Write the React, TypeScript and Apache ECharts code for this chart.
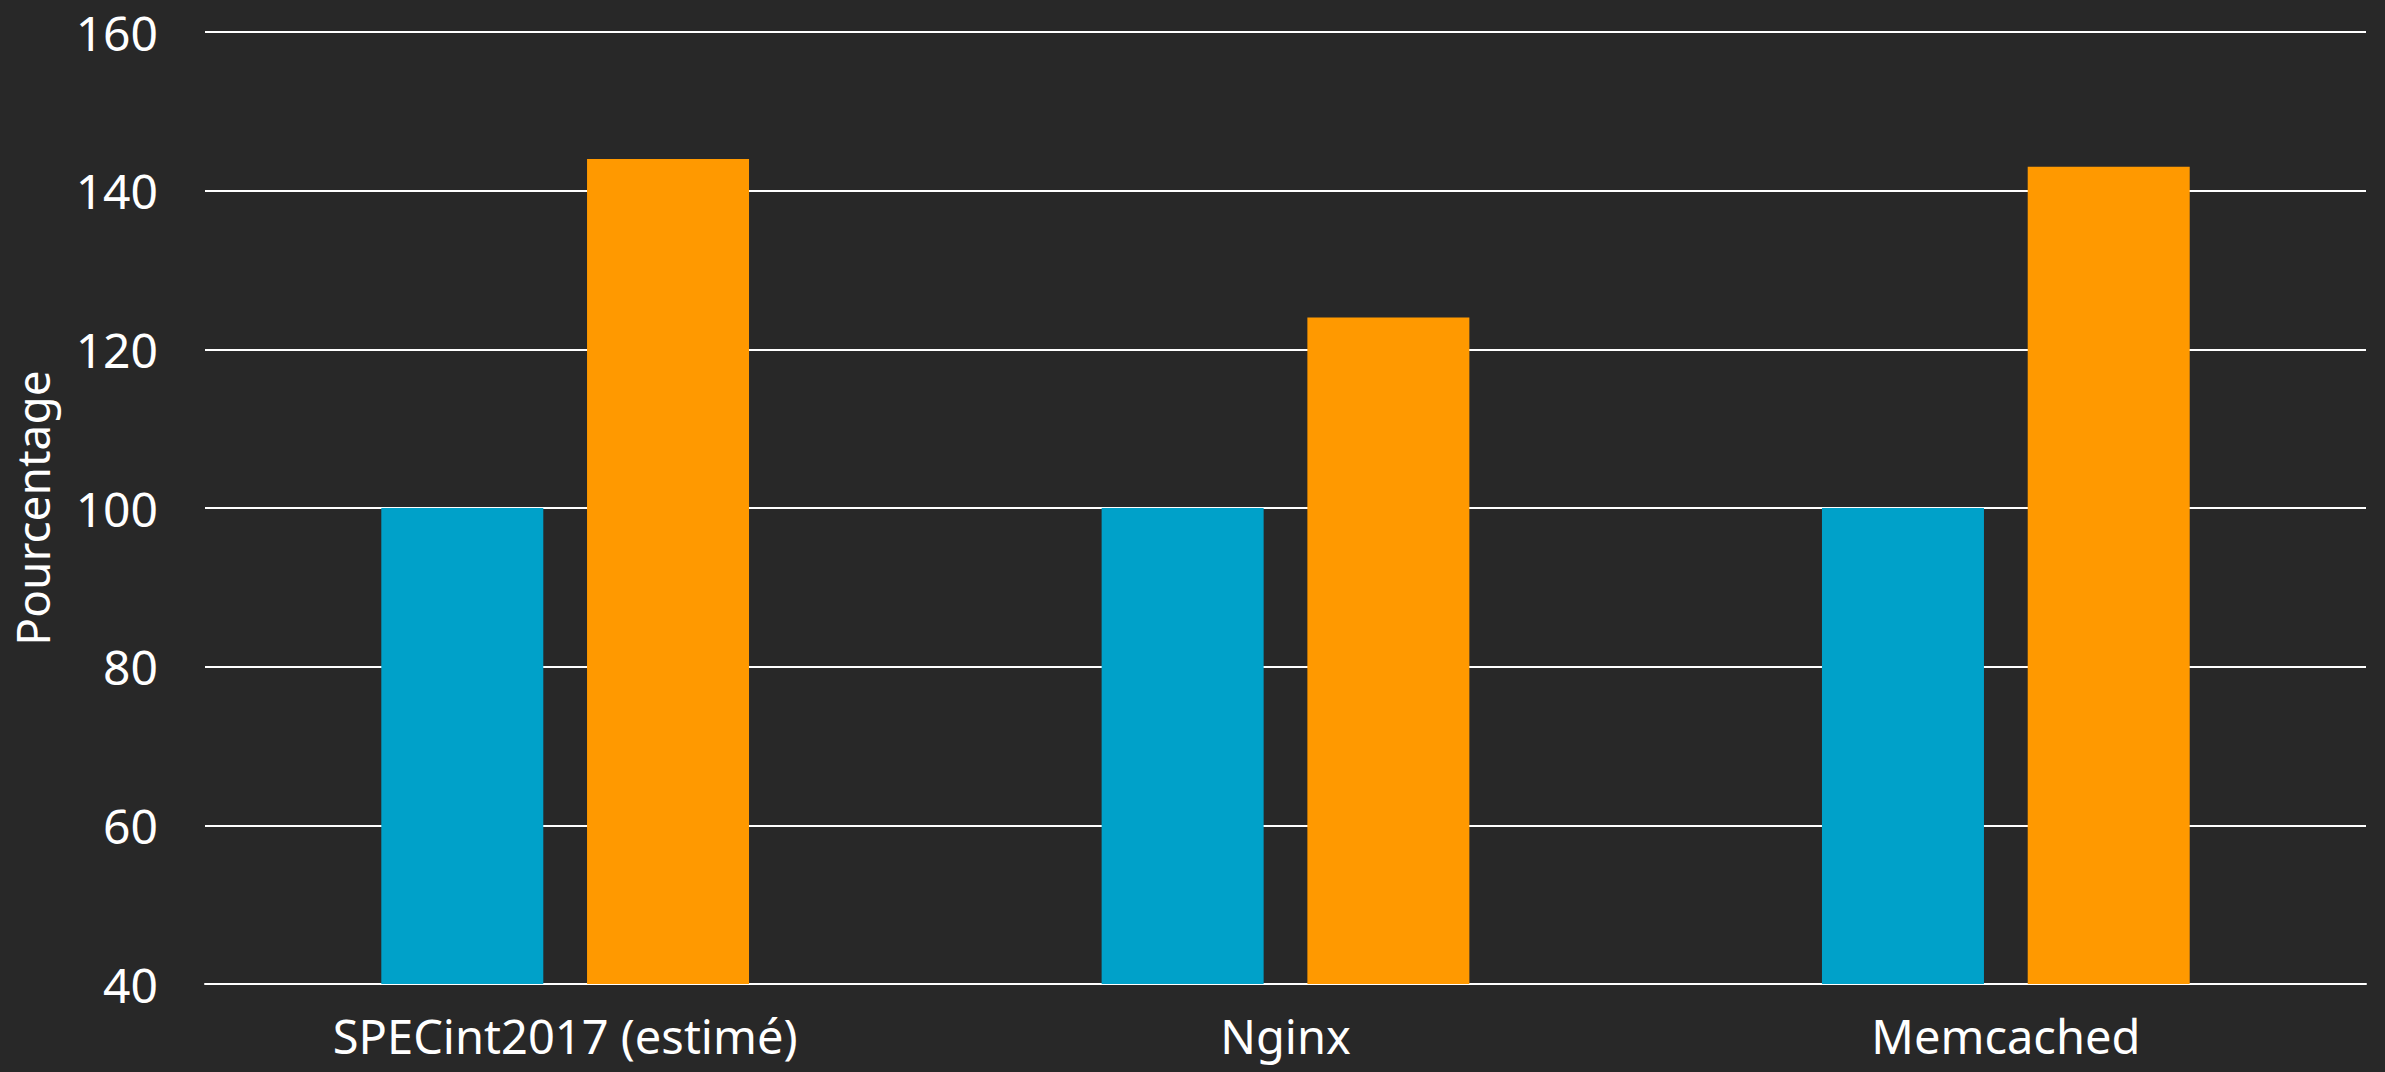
import React, { useEffect, useRef } from "react";
import * as echarts from "echarts";

const categories = ["SPECint2017 (estimé)", "Nginx", "Memcached"];
const seriesBase = [100, 100, 100];
const seriesNew = [144, 124, 143];
const yTicks = { min: 40, max: 160, interval: 20 };
const yAxisName = "Pourcentage";

export default function App() {
  const ref = useRef<HTMLDivElement>(null);
  useEffect(() => {
    if (!ref.current) return;
    const chart = echarts.init(ref.current, null, { renderer: "svg" });
    const font = "'Noto Sans', sans-serif";
    chart.setOption({
      animation: false,
      backgroundColor: "#282828",
      grid: {
        left: 205,
        right: 19,
        top: 32,
        bottom: 88,
        containLabel: false,
        outerBoundsMode: "none",
      },
      xAxis: {
        type: "category",
        data: categories,
        axisLine: { show: true, lineStyle: { color: "#ffffff", width: 2 } },
        axisTick: { show: false },
        axisLabel: { color: "#ffffff", fontSize: 47, fontFamily: font, margin: 28 },
      },
      yAxis: {
        type: "value",
        min: yTicks.min,
        max: yTicks.max,
        interval: yTicks.interval,
        name: yAxisName,
        nameLocation: "middle",
        nameGap: 150,
        nameRotate: 90,
        nameTextStyle: { color: "#ffffff", fontSize: 46, fontFamily: font },
        axisLine: { show: false },
        axisTick: { show: false },
        axisLabel: { color: "#ffffff", fontSize: 48, fontFamily: font, margin: 47 },
        splitLine: { show: true, lineStyle: { color: "#ffffff", width: 2 } },
      },
      series: [
        {
          type: "bar",
          data: seriesBase,
          barWidth: 162,
          barGap: "27%",
          itemStyle: { color: "#00A1C9" },
        },
        {
          type: "bar",
          data: seriesNew,
          barWidth: 162,
          itemStyle: { color: "#FF9900" },
        },
      ],
    });
    return () => chart.dispose();
  }, []);
  return (
    <div
      ref={ref}
      style={{ position: "absolute", left: 0, top: 0, width: 2385, height: 1072 }}
    />
  );
}
